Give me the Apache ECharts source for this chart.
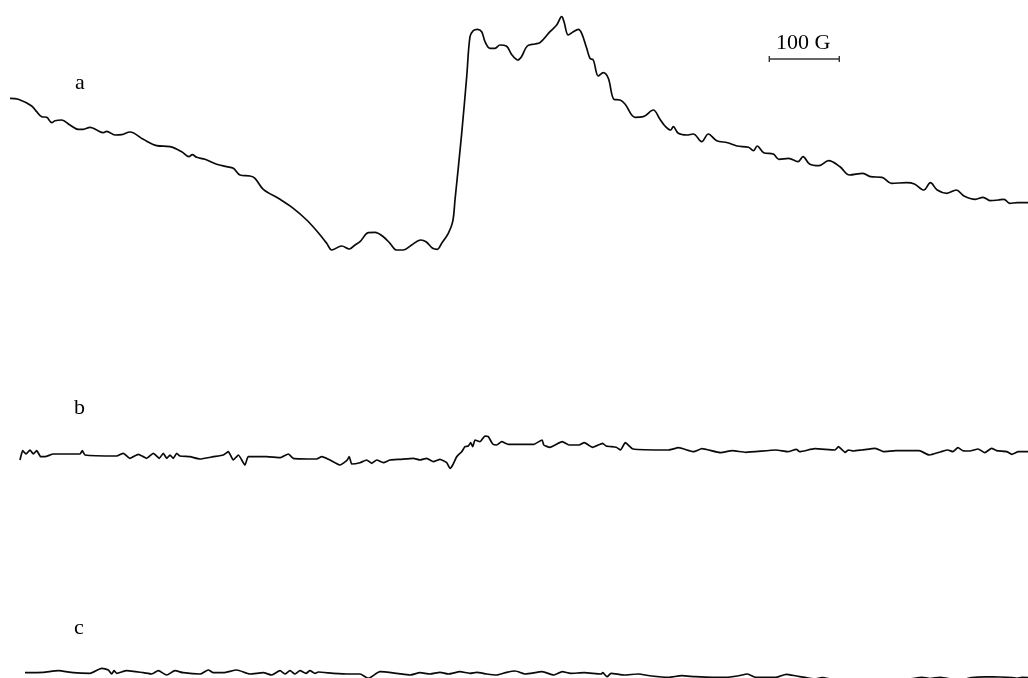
<!DOCTYPE html>
<html>
<head>
<meta charset="utf-8">
<script src="https://cdn.jsdelivr.net/npm/echarts@6/dist/echarts.min.js"></script>
<style>
html,body{margin:0;padding:0;background:#fff;}
#chart{width:1028px;height:678px;}
</style>
</head>
<body>
<div id="chart"></div>
<script>
// Field positions (arbitrary channel units; 70 units = 100 G) and signal intensities (arbitrary units)
const fieldA = [10,18.3,31.7,36.7,41.7,46.7,51.7,55,61.7,70,78.3,83.3,90,96.7,103.3,106.7,115,121.7,130,143.3,156.7,170,181.7,189,192.3,196.7,205,216.7,226.7,233.3,240,250,255,263.3,280,293.3,306.7,318.3,326.7,331.7,341.7,349.3,355,360,368.3,375,383.3,390,396.7,403.3,411.7,420.7,426,432.7,437.3,441.7,448.3,452.7,455,461.7,466.7,470,473.3,477.3,481.7,485,490,495,500,506.3,512,517.7,521.5,527.3,534.9,540,550,556.7,561.7,564,568.3,573.3,578.3,581.7,586.7,590,593.3,598.3,603.3,608.3,614,620,625,635,643.3,653.3,660,665,670.7,673.3,678.3,686.7,693.3,701.7,708.3,716.7,727.5,737,748.5,753.4,757.2,763.7,773.3,779,788.5,798,803,809.5,819,828.6,840,849.5,862.9,870.5,882,891.5,906.7,914.4,923.9,930.4,937.2,946.8,956.3,964,975.4,983,990.6,998.3,1004,1009.7,1017.3,1028];
const signalA = [51.7,50.7,44,38.3,33.3,32.7,27.3,29.3,30,25,20.7,20.7,22.7,20,17.3,18.7,15,15.3,18,10.7,4.3,3.3,-1.7,-6.7,-4.7,-7.3,-9.3,-14.3,-16.7,-18.3,-25,-26,-28.3,-39.3,-49.3,-58.3,-70,-82.7,-93.3,-100,-96,-99,-95,-91.7,-82.7,-82.3,-86.7,-93.3,-100,-100,-95,-90,-91.7,-98.3,-99.3,-93.3,-83.3,-71.7,-50,16.7,73.3,113.3,119.3,120.7,118.3,108.3,101.7,101.7,105,104,95,90,93.3,104,106,107.3,118.3,125,133.3,128.3,115,118.3,120.7,116.7,101.7,91.7,90,74,77.3,71.7,50.7,50,46,32.7,33.3,40,30.7,24,20,23.3,16.7,15,16,8.3,16,9.3,7.3,4,2.7,-0.7,4,-2.7,-4,-9.3,-8.3,-11.7,-6.7,-14,-15.7,-10.7,-16.7,-25,-23.3,-26.7,-27.3,-33.3,-32.7,-34,-40,-32.7,-40,-43.3,-40,-46,-49.3,-47.3,-50.7,-50,-49.3,-53.3,-52.7,-52.7];

const fieldB = [20,22.7,26,30,33.3,36.7,40.7,45,53.3,80,82.3,85,116.7,123.3,130,138.3,146.7,153.3,159.3,163.3,166.7,170,173.3,176.7,180,190,200,213.3,223.3,228.3,233.3,238.3,245,248.3,266.7,280,288.3,293.3,316.7,321.7,330,340,346.7,349.3,351.7,360,366.7,371.7,376.7,383.3,390,400,413.3,420,426.7,433.3,440,446.7,450,452.7,456.7,461.7,465,468.3,470.7,472.7,475,480,485,488.3,492.7,496.7,501.7,508.3,533.7,542.1,543.8,549.8,562.3,569,579.1,584.2,592.6,602.7,606.1,616.2,620.5,625.3,633,668.4,678.5,693.6,702,720.5,732.3,745.8,776.1,787.9,796.3,799.7,814.8,835,838.4,845.1,848.5,853.5,861.9,875.4,883.8,895.6,919.2,929.3,941.1,947.8,952.9,957.9,963,969.7,978.1,984.8,991.6,996.6,1006.7,1011.8,1018.5,1028];
const signalB = [-8,1.3,-2,2,-2,1.3,-4.7,-4.7,-2,-2,1.3,-3,-4,-1.3,-6.3,-2.3,-6.3,-1.3,-6.3,-1.3,-6.3,-3,-6.3,-1.3,-4,-4.7,-7,-4.7,-3,0.3,-8,-3,-13,-4.7,-4.7,-5.7,-2,-6.3,-7,-4.7,-8,-13,-8.7,-4.7,-12,-10.7,-8,-11.3,-8,-10.7,-8,-7.3,-6.3,-8,-6.3,-9.7,-7.3,-10.7,-16.3,-13,-4.7,0.3,5.3,6,9.3,5.3,12,10.3,16,15.3,8,7,10.3,7.7,7.7,12,7,4.7,10.3,7,7,9.3,4.7,8.7,6,4.7,2,9.3,3,2,4.3,0.3,3.3,-0.7,1.3,-0.3,2,0.3,2.7,0.3,3.3,2,5.3,-0.3,2,1,2,3.7,0.3,1.3,1.3,-3,0.3,2,0.3,4.3,1.3,1,3,-0.7,3.7,1.3,0.3,-2.3,0.3,0.3];

const fieldC = [25,43.3,58.3,73.3,90,101.7,108.3,111.7,114,116.7,126.7,143.3,151.7,158.3,166.7,175,183.3,200,208.3,213.3,223.3,236.7,250,263.3,271.7,280,285,290,295,300,306,310,315,318.3,333.3,350,360,368.3,380,396.7,410,420,430,440,448.3,460,470,476.7,486.7,496.7,506.7,515.2,525.3,542.1,553.9,562.3,570.7,584.2,601,602.7,607.1,611.1,624.6,638,651.5,668.4,681.8,695.3,712.1,725.6,737.4,747.5,755.9,776.1,786.2,796.3,806.4,815,822,835,860,890,910,922,930,940,948,960,972,985,1000,1012,1017,1022,1028];
const signalC = [0.3,0.7,2.3,0.3,-0.3,4.7,3,-1,2.3,-0.3,2.3,0.3,-1,2.3,-2,2.3,0.3,-1,3,0.3,0.3,3,-1,0.3,-2,2.3,-1,2.3,-1,2.3,-0.3,2.3,-0.3,1,-0.3,-1,-1,-5.3,1.3,-0.3,-2,0.3,-1,0.7,-1,1.3,-0.3,0.7,-1,-2,0.7,2,-1,1.3,-2,1.3,-0.3,0.3,-1,0.3,-3.7,-0.3,-2,-1,-3,-4.3,-2.7,-3.7,-4.3,-4.3,-3,-1,-4.3,-4.3,-1.3,-3,-4.7,-6,-4.5,-7,-8,-7,-6,-4.3,-5.5,-4.3,-5.5,-7,-4.5,-3.8,-4,-4.5,-5.3,-4.3,-4.5];

const traceLabels = ['a','b','c'];
const scaleBarField = [769.3, 839.3];   // 100 G span in field units
const scaleBarLevel = 91;               // on trace-a intensity axis
const scaleBarText = '100 G';

function pairs(xs, ys){ return xs.map((x,i)=>[x, ys[i]]); }

const chart = echarts.init(document.getElementById('chart'), null, {renderer:'canvas'});
const xAxisBase = {type:'value', min:0, max:1028, show:false};
const yBase = {type:'value', show:false};
const lineStyle = {color:'#0a0a0a', width:1.7};
const serif = '"Liberation Serif","DejaVu Serif",serif';

chart.setOption({
  backgroundColor:'#fff',
  animation:false,
  grid:[
    {left:0, width:1028, top:0, height:300},
    {left:0, width:1028, top:302, height:220},
    {left:0, width:1028, top:523, height:155}
  ],
  xAxis:[
    Object.assign({gridIndex:0}, xAxisBase),
    Object.assign({gridIndex:1}, xAxisBase),
    Object.assign({gridIndex:2}, xAxisBase)
  ],
  yAxis:[
    Object.assign({gridIndex:0, min:-150, max:150}, yBase),
    Object.assign({gridIndex:1, min:-70, max:150}, yBase),
    Object.assign({gridIndex:2, min:-5, max:150}, yBase)
  ],
  series:[
    {type:'line', xAxisIndex:0, yAxisIndex:0, data:pairs(fieldA, signalA), showSymbol:false, symbol:'none', smooth:0.35, lineStyle:lineStyle},
    {type:'line', xAxisIndex:1, yAxisIndex:1, data:pairs(fieldB, signalB), showSymbol:false, symbol:'none', smooth:0.15, lineStyle:lineStyle},
    {type:'line', xAxisIndex:2, yAxisIndex:2, data:pairs(fieldC, signalC), showSymbol:false, symbol:'none', smooth:0.2, lineStyle:lineStyle, clip:false},
    {type:'line', xAxisIndex:0, yAxisIndex:0, data:scaleBarField.map(x=>[x, scaleBarLevel]),
      symbol:'rect', symbolSize:[1.4,6], itemStyle:{color:'#333'}, lineStyle:{color:'#333', width:1.4},
      label:{show:false}}
  ],
  graphic:[
    {type:'text', left:75, top:72, style:{text:traceLabels[0], font:'22px '+serif, fill:'#000'}},
    {type:'text', left:74, top:397, style:{text:traceLabels[1], font:'22px '+serif, fill:'#000'}},
    {type:'text', left:74, top:617, style:{text:traceLabels[2], font:'22px '+serif, fill:'#000'}},
    {type:'text', left:776, top:32, style:{text:scaleBarText, font:'22px '+serif, fill:'#000'}}
  ]
});
</script>
</body>
</html>
